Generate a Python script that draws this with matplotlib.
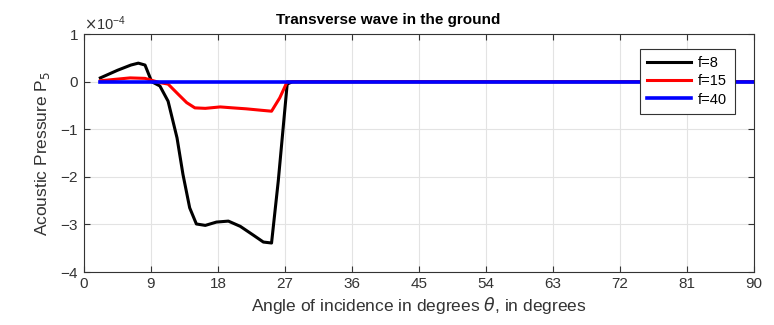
import matplotlib.pyplot as plt
import matplotlib.ticker as mticker
import numpy as np

plt.rcParams['font.family'] = ['Liberation Sans', 'DejaVu Sans']
plt.rcParams['axes.unicode_minus'] = False

# Pressure samples, in units of 1e-4
theta_8 = [2.2, 4.5, 6.3, 7.3, 8.2, 9.1, 10.2, 11.3, 12.5, 13.3, 14.2, 15.1, 16.3,
           17.8, 19.4, 21.0, 22.8, 24.1, 25.2, 26.1, 27.3, 28.0, 90.0]
p_8 = [0.08, 0.24, 0.35, 0.39, 0.35, 0.0, -0.09, -0.41, -1.18, -1.95, -2.65, -2.99,
       -3.02, -2.95, -2.93, -3.04, -3.23, -3.37, -3.39, -2.09, -0.05, 0.0, 0.0]

theta_15 = [2.2, 6.2, 8.2, 10.2, 11.3, 12.7, 13.8, 14.9, 16.3, 18.3, 20.0, 21.8,
            23.8, 25.2, 26.3, 27.3, 28.0, 90.0]
p_15 = [0.02, 0.08, 0.07, -0.02, -0.05, -0.27, -0.44, -0.55, -0.56, -0.53, -0.55,
        -0.57, -0.60, -0.62, -0.34, 0.0, 0.0, 0.0]

theta_40 = [2.2, 9.0, 18.0, 27.0, 45.0, 90.0]
p_40 = [0.0, 0.0, 0.0, 0.0, 0.0, 0.0]

scale = 1e-4

fig = plt.figure(figsize=(7.74, 3.25), dpi=100)
ax = fig.add_axes([0.1085, 0.163, 0.8655, 0.732])

ax.plot(theta_8, np.array(p_8) * scale, color='black', lw=2.2, label='f=8')
ax.plot(theta_15, np.array(p_15) * scale, color='red', lw=2.2, label='f=15')
ax.plot(theta_40, np.array(p_40) * scale, color='blue', lw=2.6, label='f=40')

ax.set_xlim(0, 90)
ax.set_ylim(-4e-4, 1e-4)
ax.set_xticks(np.arange(0, 91, 9))
ax.set_yticks(np.arange(-4, 2) * scale)

fmt = mticker.ScalarFormatter(useMathText=True)
fmt.set_powerlimits((0, 0))
ax.yaxis.set_major_formatter(fmt)
ax.yaxis.get_offset_text().set_fontsize(10.5)
ax.yaxis.get_offset_text().set_color('#555555')

ax.grid(True, color='#e3e3e3', lw=0.8)
ax.set_axisbelow(True)
ax.tick_params(direction='in', length=4, labelsize=11, colors='#333333',
               top=True, right=True)
for s in ax.spines.values():
    s.set_color('#333333')
    s.set_linewidth(0.8)

ax.set_title('Transverse wave in the ground', fontsize=11, fontweight='bold',
             x=0.454, pad=7)
ax.set_xlabel(r'Angle of incidence in degrees $\theta$, in degrees', fontsize=12.5,
              color='#333333', labelpad=3)
ax.set_ylabel(r'Acoustic Pressure P$_5$', fontsize=12.5, color='#333333', labelpad=6)

leg = ax.legend(loc='upper right', bbox_to_anchor=(0.982, 0.97), fontsize=10.5,
                fancybox=False, framealpha=1, edgecolor='#333333',
                handlelength=3.0, handletextpad=0.5, borderpad=0.5,
                labelspacing=0.3)
leg.get_frame().set_linewidth(0.8)

fig.savefig('out.png', dpi=100)
